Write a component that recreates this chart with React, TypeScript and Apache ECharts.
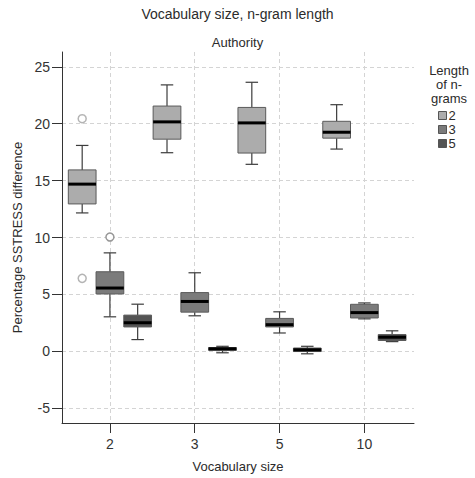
import React, { useEffect, useRef } from "react";
import * as echarts from "echarts";

// Vocabulary sizes along the x axis
const categories = ["2", "3", "5", "10"];
// Length of n-grams (one box per vocabulary size for each)
const ngramLengths = ["2", "3", "5"];

// Box statistics per vocabulary size: [min, Q1, median, Q3, max]
const ngram2 = [
  [12.16, 12.95, 14.69, 15.94, 18.09],
  [17.45, 18.64, 20.16, 21.55, 23.41],
  [16.43, 17.42, 20.07, 21.43, 23.64],
  [17.77, 18.73, 19.25, 20.21, 21.67],
];
const ngram3 = [
  [3.03, 5.04, 5.56, 6.99, 8.65],
  [3.12, 3.44, 4.38, 5.16, 6.9],
  [1.61, 2.14, 2.34, 2.89, 3.47],
  [2.85, 2.93, 3.4, 4.13, 4.25],
];
const ngram5 = [
  [1.03, 2.14, 2.51, 3.18, 4.14],
  [-0.13, 0.08, 0.22, 0.33, 0.44],
  [-0.22, -0.02, 0.13, 0.29, 0.44],
  [0.85, 0.95, 1.24, 1.47, 1.8],
];

// Outliers: [vocabulary size index, value]
const outliers2 = [
  [0, 20.44],
  [0, 6.41],
];
const outliers3 = [[0, 10.04]];
const outliers5: number[][] = [];

// Value axis tick positions
const yTicks = [-5, 0, 5, 10, 15, 20, 25];
const xTicks = [0, 1, 2, 3];

const FONT = "'Liberation Sans', Arial, sans-serif";
const fills = ["#acacac", "#7b7b7b", "#545454"];
const outlierStrokes = ["#b4b4b4", "#989898", "#6a6a6a"];
const BOX_UNITS = 0.327; // box width in category units
const CAP_RATIO = 0.45; // whisker cap width relative to the box

function boxRenderer(groupIdx: number) {
  const off = (groupIdx - 1) * BOX_UNITS;
  return (params: any, api: any) => {
    const x = api.value(0);
    const [mn, q1, md, q3, mx] = [1, 2, 3, 4, 5].map((d) => api.value(d));
    const cx = api.coord([x + off, 0])[0];
    const halfW = api.size([BOX_UNITS, 0])[0] / 2;
    const capHalf = halfW * CAP_RATIO;
    const y = (v: number) => api.coord([x, v])[1];
    const line = (x1: number, y1: number, x2: number, y2: number, stroke: string, lw: number) => ({
      type: "line",
      shape: { x1, y1, x2, y2 },
      style: { stroke, lineWidth: lw },
    });
    const whisk = "#3c3c3c";
    return {
      type: "group",
      children: [
        line(cx, y(mx), cx, y(q3), whisk, 1.2),
        line(cx, y(mn), cx, y(q1), whisk, 1.2),
        line(cx - capHalf, y(mx), cx + capHalf, y(mx), whisk, 1.2),
        line(cx - capHalf, y(mn), cx + capHalf, y(mn), whisk, 1.2),
        {
          type: "rect",
          shape: { x: cx - halfW, y: y(q3), width: halfW * 2, height: y(q1) - y(q3) },
          style: { fill: fills[groupIdx], stroke: "#5a5a5a", lineWidth: 1 },
        },
        line(cx - halfW, y(md), cx + halfW, y(md), "#000000", 3),
      ],
    };
  };
}

function outlierRenderer(groupIdx: number) {
  const off = (groupIdx - 1) * BOX_UNITS;
  return (params: any, api: any) => {
    const p = api.coord([api.value(0) + off, api.value(1)]);
    return {
      type: "circle",
      shape: { cx: p[0], cy: p[1], r: 4 },
      style: { fill: "#ffffff", stroke: outlierStrokes[groupIdx], lineWidth: 1.5 },
    };
  };
}

export default function App() {
  const ref = useRef<HTMLDivElement>(null);

  useEffect(() => {
    if (!ref.current) return;
    const chart = echarts.init(ref.current, undefined, { renderer: "svg" });
    const boxSets = [ngram2, ngram3, ngram5];
    const outlierSets = [outliers2, outliers3, outliers5];

    const boxSeries = boxSets.map((set, g) => ({
      type: "custom",
      name: ngramLengths[g],
      renderItem: boxRenderer(g),
      encode: { x: 0, y: [1, 2, 3, 4, 5] },
      itemStyle: { color: fills[g], borderColor: "#5a5a5a" },
      data: set.map((stats, i) => [i, ...stats]),
      z: 3,
    }));
    const outlierSeries = outlierSets.map((set, g) => ({
      type: "custom",
      name: ngramLengths[g],
      renderItem: outlierRenderer(g),
      encode: { x: 0, y: 1 },
      itemStyle: { color: fills[g] },
      data: set,
      z: 4,
    }));

    const gridLine = {
      show: true,
      showMinLine: true,
      showMaxLine: true,
      lineStyle: { color: "#d4d4d4", type: [4, 3], width: 1 },
    };

    chart.setOption({
      animation: false,
      textStyle: { fontFamily: FONT },
      title: [
        {
          text: "Vocabulary size, n-gram length",
          left: "center",
          top: 2,
          textStyle: { fontSize: 14, fontWeight: "normal", color: "#2b2b2b", fontFamily: FONT },
        },
        {
          text: "Authority",
          left: "center",
          top: 31,
          textStyle: { fontSize: 13, fontWeight: "normal", color: "#2b2b2b", fontFamily: FONT },
        },
      ],
      graphic: [
        {
          type: "text",
          x: 449,
          y: 63,
          style: {
            text: "Length\nof n-\ngrams",
            align: "center",
            fontSize: 13,
            lineHeight: 14,
            fontFamily: FONT,
            fill: "#2b2b2b",
          },
        },
      ],
      legend: {
        orient: "vertical",
        left: 438,
        top: 109,
        padding: 0,
        itemWidth: 8,
        itemHeight: 8,
        itemGap: 1,
        icon: "rect",
        textStyle: { fontSize: 13, lineHeight: 13, color: "#2b2b2b", fontFamily: FONT, padding: [0, 0, 0, -3] },
        data: ngramLengths.map((n, g) => ({
          name: n,
          itemStyle: { color: fills[g], borderColor: "#555555", borderWidth: 1 },
        })),
        selectedMode: false,
      },
      grid: { left: 62, right: 61, top: 52, bottom: 52, containLabel: false },
      xAxis: {
        type: "value",
        min: -0.565,
        max: 3.585,
        name: "Vocabulary size",
        nameLocation: "middle",
        nameGap: 37,
        nameTextStyle: { fontSize: 13, color: "#2b2b2b", fontFamily: FONT },
        axisLine: { onZero: false, lineStyle: { color: "#333333", width: 1 } },
        axisTick: { customValues: xTicks, length: 10, lineStyle: { color: "#333333" } },
        axisLabel: {
          customValues: xTicks,
          formatter: (v: number) => categories[Math.round(v)] ?? "",
          fontSize: 14,
          color: "#333333",
          margin: 14,
          fontFamily: FONT,
        },
        splitLine: gridLine,
      },
      yAxis: {
        type: "value",
        min: -6.3,
        max: 26.3,
        name: "Percentage SSTRESS difference",
        nameLocation: "middle",
        nameGap: 22,
        nameTextStyle: { fontSize: 13, color: "#2b2b2b", fontFamily: FONT },
        axisLine: { show: true, onZero: false, lineStyle: { color: "#333333", width: 1 } },
        axisTick: { show: true, customValues: yTicks, length: 10, lineStyle: { color: "#333333" } },
        axisLabel: { customValues: yTicks, fontSize: 14, color: "#333333", margin: 12, fontFamily: FONT },
        splitLine: gridLine,
      },
      series: [...boxSeries, ...outlierSeries],
    });
    return () => chart.dispose();
  }, []);

  return (
    <div
      ref={ref}
      style={{ position: "fixed", left: 0, top: 0, width: 475, height: 478, background: "#ffffff" }}
    />
  );
}
